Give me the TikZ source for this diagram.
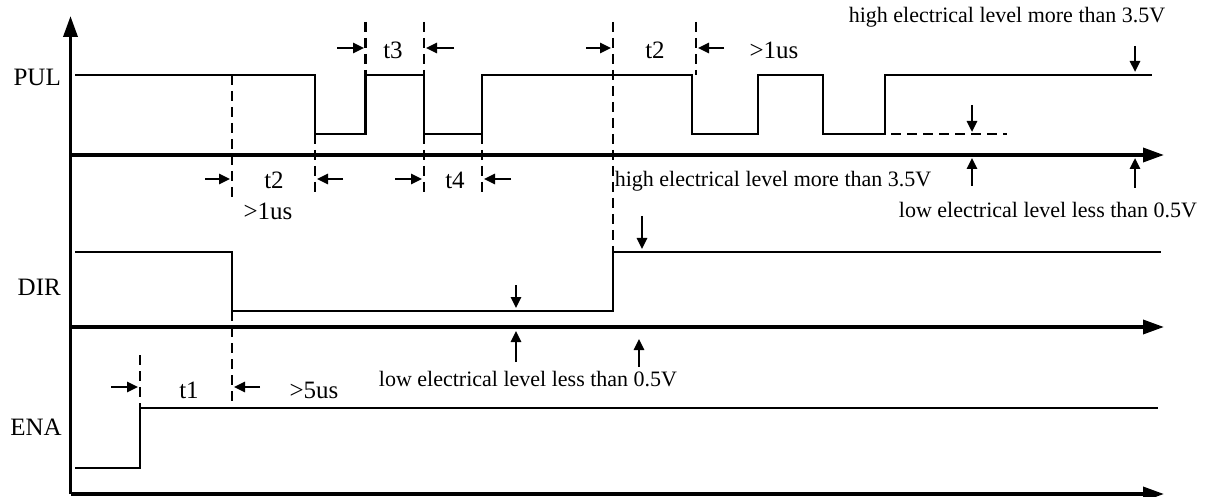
\documentclass[tikz,border=0pt]{standalone}
\usepackage{fontspec}
\setmainfont{Liberation Serif}
\usetikzlibrary{arrows.meta}
\begin{document}
\begin{tikzpicture}[x=1pt,y=-1pt,
  wave/.style={line width=2.2pt,line join=miter},
  axisline/.style={line width=3.5pt,-{Triangle[length=21pt,width=14pt]}},
  guide/.style={line width=2.2pt,dash pattern=on 10pt off 6pt},
  marker/.style={line width=2.5pt,-{Triangle[length=11pt,width=10pt]}},
  sig/.style={font=\fontsize{25}{30}\selectfont,inner sep=0pt},
  lab/.style={font=\fontsize{25}{30}\selectfont,inner sep=0pt},
  note/.style={font=\fontsize{22}{26}\selectfont,inner sep=0pt,anchor=base}]
\useasboundingbox (0,0) rectangle (1205,497);
% axes
\coordinate (O) at (70.5,494);
\coordinate (Ytip) at (70.5,16);
\coordinate (Pax0) at (70.5,155); \coordinate (Pax1) at (1164,155);
\coordinate (Dax0) at (70.5,327); \coordinate (Dax1) at (1164,327);
\coordinate (Eax1) at (1164,494);
\draw[axisline] (O) -- (Ytip);
\draw[axisline] (Pax0) -- (Pax1);
\draw[axisline] (Dax0) -- (Dax1);
\draw[axisline] (O) -- (Eax1);
% signal names
\node[sig,anchor=east] (pul) at (61,77) {PUL};
\node[sig,anchor=east] (dir) at (61,287) {DIR};
\node[sig,anchor=east] (ena) at (62,427) {ENA};
% PUL waveform
\draw[wave] (75,75) -- (315,75) -- (315,134) -- (365.5,134) -- (365.5,75) -- (424,75) -- (424,134)
  -- (482,134) -- (482,75) -- (692,75) -- (692,134) -- (758,134) -- (758,75) -- (823,75) -- (823,134)
  -- (885,134) -- (885,75) -- (1152,75);
\draw[guide] (891,134) -- (1007,134);
% DIR waveform
\draw[wave] (75,252) -- (232,252) -- (232,311) -- (613,311) -- (613,252) -- (1161,252);
% ENA waveform
\draw[wave] (75,468) -- (140,468) -- (140,408) -- (1158,408);
% guide lines
\draw[guide] (232,75) -- (232,197);
\draw[guide] (232,311) -- (232,408);
\draw[guide] (315,134) -- (315,197);
\draw[guide] (365.5,22) -- (365.5,75);
\draw[guide] (424,22) -- (424,75);
\draw[guide] (424,134) -- (424,197);
\draw[guide] (482,134) -- (482,196);
\draw[guide] (613,22) -- (613,252);
\draw[guide] (696,22) -- (696,75);
\draw[guide] (140,355) -- (140,408);
% timing labels and arrows
\node[lab] (t3) at (393,50) {t3};
\draw[marker] (337,48) -- (364,48);
\draw[marker] (454,48) -- (426,48);
\node[lab] (t2a) at (655,50) {t2};
\draw[marker] (586,48) -- (611,48);
\draw[marker] (724,48) -- (698,48);
\node[lab] (us1a) at (774,50) {>1us};
\node[lab] (t2b) at (274,180) {t2};
\draw[marker] (205,179) -- (230,179);
\draw[marker] (343,179) -- (317,179);
\node[lab] (us1b) at (268,211) {>1us};
\node[lab] (t4) at (455,180) {t4};
\draw[marker] (395,179) -- (422,179);
\draw[marker] (511,179) -- (484,179);
\node[lab] (t1) at (189,390) {t1};
\draw[marker] (111,387) -- (138,387);
\draw[marker] (260,387) -- (234,387);
\node[lab] (us5) at (314,390) {>5us};
% level notes
\node[note] (hi1) at (1007,23) {high electrical level more than 3.5V};
\node[note] (lo1) at (1048,218) {low electrical level less than 0.5V};
\node[note] (hi2) at (773,187) {high electrical level more than 3.5V};
\node[note] (lo2) at (528,386) {low electrical level less than 0.5V};
\draw[marker] (1135,46) -- (1135,72);
\draw[marker] (972,105) -- (972,132);
\draw[marker] (972,186) -- (972,158);
\draw[marker] (1135,188) -- (1135,158);
\draw[marker] (642,216) -- (642,249);
\draw[marker] (516,285) -- (516,308);
\draw[marker] (516,362) -- (516,331);
\draw[marker] (639,367) -- (639,339);
\end{tikzpicture}
\end{document}
